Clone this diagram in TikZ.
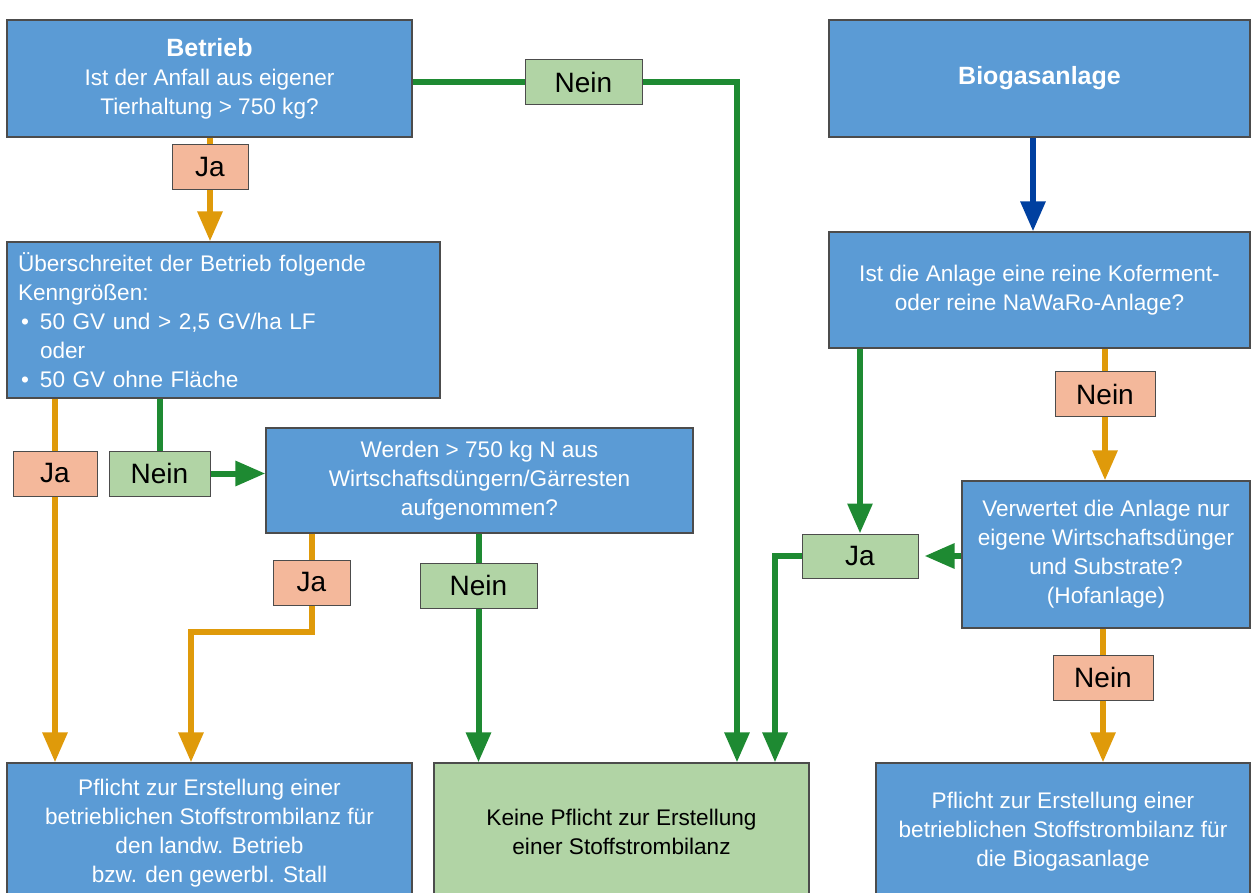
\documentclass[tikz,border=0pt]{standalone}
\usepackage{fontspec}
\setmainfont{Liberation Sans}
\usepackage{tikz}
\usetikzlibrary{arrows.meta,positioning,calc}

\definecolor{kastenblau}{RGB}{91,155,213}
\definecolor{hellgruen}{RGB}{177,212,165}
\definecolor{lachs}{RGB}{244,184,155}
\definecolor{linieorange}{RGB}{223,154,10}
\definecolor{liniegruen}{RGB}{30,138,50}
\definecolor{dunkelblau}{RGB}{0,64,160}

\begin{document}
\begin{tikzpicture}[x=1pt,y=-1pt,>={Triangle[width=24pt,length=30pt]}]
  \tikzstyle{kasten}=[draw=black!70,line width=1.2pt,fill=kastenblau,text=white,align=center,inner sep=0pt,font=\fontsize{22.6}{29}\selectfont]
  \tikzstyle{feld}=[draw=black!70,line width=1pt,inner sep=0pt,minimum height=45pt,font=\fontsize{28}{30}\selectfont]
  \tikzstyle{feldorange}=[feld,fill=lachs]
  \tikzstyle{feldgruen}=[feld,fill=hellgruen]
  \tikzstyle{linieo}=[draw=linieorange,line width=6pt]
  \tikzstyle{linieg}=[draw=liniegruen,line width=6pt]
  \useasboundingbox (0,0) rectangle (1254,893);

  % Betrieb
  \node[kasten,minimum width=405pt,minimum height=117pt] (betrieb) at (209.5,78.5)
    {{\fontsize{25}{32}\selectfont\bfseries Betrieb}\\Ist der Anfall aus eigener\\Tierhaltung > 750 kg?};
  \node[kasten,align=left,inner xsep=11pt,text width=411pt,minimum height=156pt] (ueber) at (223.5,320)
    {Überschreitet der Betrieb folgende\\Kenngrößen:\\
     \makebox[22pt][l]{\hspace{3pt}\textbullet}50 GV und > 2,5 GV/ha LF\\
     \hspace*{22pt}oder\\
     \makebox[22pt][l]{\hspace{3pt}\textbullet}50 GV ohne Fläche};
  \node[kasten,minimum width=427pt,minimum height=105pt] (werden) at (479.5,480.5)
    {Werden > 750 kg N aus\\Wirtschaftsdüngern/Gärresten\\aufgenommen?};
  \node[kasten,minimum width=405pt,minimum height=140pt] (pflichtA) at (209.5,833)
    {Pflicht zur Erstellung einer\\betrieblichen Stoffstrombilanz für\\den landw. Betrieb\\bzw. den gewerbl. Stall};
  \node[kasten,fill=hellgruen,text=black,minimum width=375pt,minimum height=138pt] (keine) at (621.5,832)
    {Keine Pflicht zur Erstellung\\einer Stoffstrombilanz};

  % Biogasanlage
  \node[kasten,minimum width=421pt,minimum height=117pt] (biogas) at (1039.5,78.5)
    {\fontsize{25}{30}\selectfont\bfseries Biogasanlage};
  \node[kasten,minimum width=421pt,minimum height=116pt] (ist) at (1039.5,290)
    {Ist die Anlage eine reine Koferment-\\oder reine NaWaRo-Anlage?};
  \node[kasten,minimum width=288pt,minimum height=147pt] (verwertet) at (1106,554.5)
    {Verwertet die Anlage nur\\eigene Wirtschaftsdünger\\und Substrate?\\(Hofanlage)};
  \node[kasten,minimum width=374pt,minimum height=138pt] (pflichtB) at (1063,832)
    {Pflicht zur Erstellung einer\\betrieblichen Stoffstrombilanz für\\die Biogasanlage};

  % Antworten
  \node[feldorange,minimum width=76pt] (jaA) at (210,167.5) {Ja};
  \node[feldgruen,minimum width=117pt] (neinA) at (583.5,82.5) {Nein};
  \node[feldorange,minimum width=84pt] (jaB) at (55,473.5) {Ja};
  \node[feldgruen,minimum width=101pt] (neinB) at (159.5,473.5) {Nein};
  \node[feldorange,minimum width=77pt] (jaC) at (311.5,582.5) {Ja};
  \node[feldgruen,minimum width=117pt] (neinC) at (478.5,585.5) {Nein};
  \node[feldgruen,minimum width=116pt,minimum height=44pt] (jaD) at (860,556) {Ja};
  \node[feldorange,minimum width=100pt] (neinD) at (1105,394.5) {Nein};
  \node[feldorange,minimum width=100pt] (neinE) at (1103,677.5) {Nein};

  \coordinate (knickA) at (737,0);
  \coordinate (knickB) at (775,0);
  \coordinate (knickC) at (191,632);
  \coordinate (pfeil) at (1033,0);

  % Verbindungen
  \draw[linieo] (betrieb.south -| jaA) -- (jaA.north);
  \draw[linieo,->] (jaA.south) -- (ueber.north -| jaA);
  \draw[linieg] (betrieb.east |- neinA) -- (neinA.west);
  \draw[linieg,->] (neinA.east) -| (knickA |- keine.north);
  \draw[linieo] (ueber.south -| jaB) -- (jaB.north);
  \draw[linieo,->] (jaB.south) -- (pflichtA.north -| jaB);
  \draw[linieg] (ueber.south -| neinB) -- (neinB.north);
  \draw[linieg,->] (neinB.east) -- (werden.west |- neinB);
  \draw[linieo] (werden.south -| jaC) -- (jaC.north);
  \draw[linieo,->] (jaC.south) |- (knickC) -- (knickC |- pflichtA.north);
  \draw[linieg] (werden.south -| neinC) -- (neinC.north);
  \draw[linieg,->] (neinC.south) -- (keine.north -| neinC);
  \draw[draw=dunkelblau,line width=6pt,->] (biogas.south -| pfeil) -- (ist.north -| pfeil);
  \draw[linieg,->] (ist.south -| jaD) -- (jaD.north);
  \draw[linieo] (ist.south -| neinD) -- (neinD.north);
  \draw[linieo,->] (neinD.south) -- (verwertet.north -| neinD);
  \draw[linieg,->,shorten >=6pt] (verwertet.west |- jaD) -- (jaD.east);
  \draw[linieg,->] (jaD.west) -| (knickB |- keine.north);
  \draw[linieo] (verwertet.south -| neinE) -- (neinE.north);
  \draw[linieo,->] (neinE.south) -- (pflichtB.north -| neinE);
\end{tikzpicture}
\end{document}
